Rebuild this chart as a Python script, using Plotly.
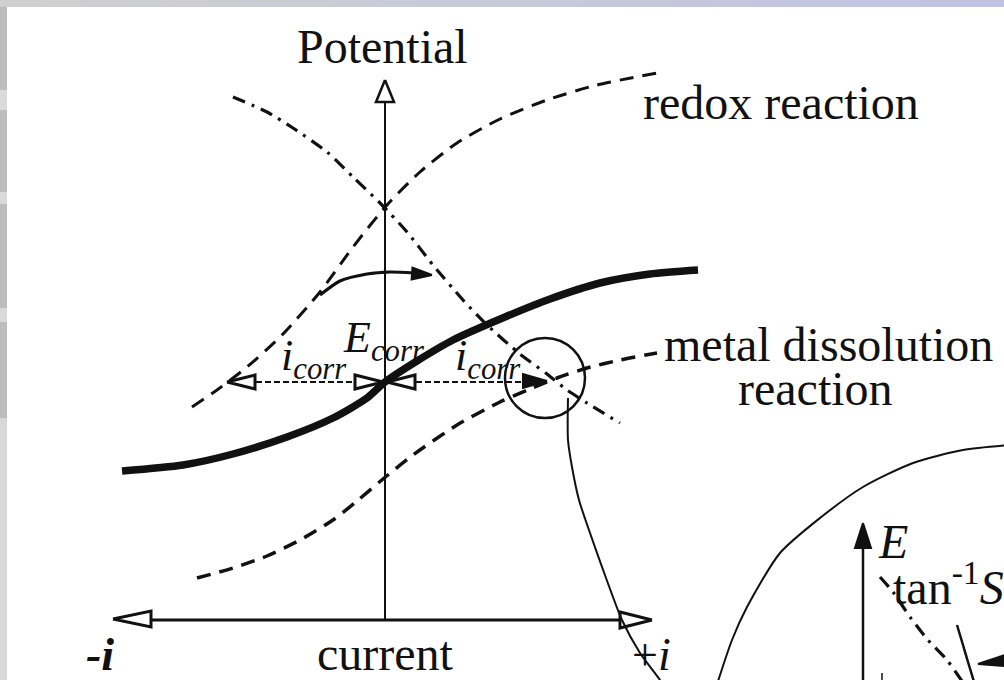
import plotly.graph_objects as go

W, H = 1004, 680
INK = "#111111"
SERIF = "Liberation Serif, Times New Roman, serif"

# ---- curve data (drawing units: x to the right, y downward) ----
# measured polarization curve (thick solid)
polar_x = [122, 183, 233, 287, 333, 367, 385, 417, 453, 505, 550, 600, 650, 698]
polar_y = [471, 465, 454, 437, 418, 398, 382, 361, 340, 317, 299, 283, 274, 270]

# redox reaction partial curve (dashed)
redox_x = [192, 217, 247, 282, 320, 353, 387, 420, 457, 500, 547, 597, 663]
redox_y = [407, 390, 367, 335, 292, 247, 205, 172, 143, 119, 100, 85, 72]

# metal dissolution partial curve (dashed)
metal_x = [197, 233, 267, 300, 333, 357, 383, 413, 457, 500, 530, 557, 587, 620, 657]
metal_y = [578, 568, 556, 540, 520, 501, 479, 455, 425, 402, 389, 378, 368, 360, 353]

# reversed redox branch (dash-dot)
rev_x = [233, 267, 293, 327, 353, 380, 407, 433, 463, 487, 520, 547, 567, 587, 620]
rev_y = [97, 112, 128, 152, 177, 203, 232, 265, 300, 325, 354, 374, 390, 403, 423]

# shift arrow of the potential
shift_x = [320, 340, 367, 390, 414, 432]
shift_y = [295, 281, 274, 272, 273, 275]

# axes of the main diagram
origin_x, origin_y = 385, 620
pot_axis_top = 80
cur_axis_left, cur_axis_right = 113, 652

# corrosion point and i_corr spans
e_corr = (385, 382)
icorr_left = (227, 383)
icorr_right = (387, 547)

# magnifier circle and connector
zoom_center = (545, 378)
zoom_radius = 40
conn_x = [568, 568, 572, 579, 590, 606, 622, 640, 660, 672]
conn_y = [398, 440, 467, 500, 533, 578, 620, 653, 680, 700]

# enlarged inset (bottom right)
inset_arc_x = [712, 732, 747, 780, 820, 863, 913, 963, 1010]
inset_arc_y = [700, 640, 607, 553, 518, 487, 463, 450, 445]
inset_axis_x, inset_axis_top = 863, 523
inset_dd_x = [880, 893, 910, 928, 947, 968]
inset_dd_y = [577, 592, 617, 640, 660, 690]
inset_solid_x = [957, 963, 968, 975]
inset_solid_y = [625, 645, 662, 685]
inset_tick_x = 882

fig = go.Figure()


def line(xs, ys, width, dash="solid", shape="spline", smoothing=0.7):
    fig.add_trace(go.Scatter(
        x=xs, y=ys, mode="lines", hoverinfo="skip",
        line=dict(color=INK, width=width, dash=dash, shape=shape, smoothing=smoothing),
    ))


def head(tip_x, tip_y, from_x, from_y, length, half, filled=False, width=2.5):
    dx, dy = tip_x - from_x, tip_y - from_y
    n = (dx * dx + dy * dy) ** 0.5
    ux, uy = dx / n, dy / n
    bx, by = tip_x - ux * length, tip_y - uy * length
    px, py = -uy, ux
    xs = [tip_x, bx + px * half, bx - px * half, tip_x]
    ys = [tip_y, by + py * half, by - py * half, tip_y]
    fig.add_trace(go.Scatter(
        x=xs, y=ys, mode="lines", fill="toself", hoverinfo="skip",
        fillcolor=INK if filled else "white",
        line=dict(color=INK, width=width),
    ))


# main axes
line([origin_x, origin_x], [origin_y, pot_axis_top + 10], 2, shape="linear")
line([cur_axis_left + 10, cur_axis_right - 10], [origin_y, origin_y], 2.8, shape="linear")
head(origin_x, pot_axis_top, origin_x, origin_y, 22, 9)
head(cur_axis_left, origin_y - 1, origin_x, origin_y - 1, 38, 8, width=3)
head(cur_axis_right, origin_y, origin_x, origin_y, 32, 8, width=3)

# partial reaction curves
line(redox_x, redox_y, 3, dash="14px,9px")
line(metal_x, metal_y, 3.5, dash="14px,9px")
line(rev_x, rev_y, 3.2, dash="13px,7px,3px,7px")

# measured curve
line(polar_x, polar_y, 7.5)

# shift arrow
line(shift_x[:-1], shift_y[:-1], 3.2)
head(shift_x[-1], shift_y[-1], shift_x[-3], shift_y[-3], 20, 6, filled=True, width=2)

# i_corr double arrows
y0 = e_corr[1]
line([icorr_left[0] + 20, icorr_left[1] - 20], [y0, y0], 2, dash="6px,3px", shape="linear")
line([icorr_right[0] + 20, icorr_right[1] - 20], [y0, y0], 2, dash="6px,3px", shape="linear")
head(icorr_left[0], y0, icorr_left[1], y0, 28, 7, width=3)
head(icorr_left[1], y0, icorr_left[0], y0, 28, 7, width=3)
head(icorr_right[0], y0, icorr_right[1], y0, 28, 7, width=3)
head(icorr_right[1], y0 - 1, icorr_right[0], y0 - 1, 24, 7, filled=True, width=2)

# magnifier circle and connector
fig.add_shape(type="circle", xref="x", yref="y",
              x0=zoom_center[0] - zoom_radius, x1=zoom_center[0] + zoom_radius,
              y0=zoom_center[1] - zoom_radius, y1=zoom_center[1] + zoom_radius,
              line=dict(color=INK, width=2.5))
line(conn_x, conn_y, 2)

# inset
line(inset_arc_x, inset_arc_y, 2)
line([inset_axis_x, inset_axis_x], [700, inset_axis_top + 10], 2.5, shape="linear")
head(inset_axis_x, inset_axis_top, inset_axis_x, 680, 25, 8, filled=True, width=2)
line([inset_tick_x, inset_tick_x], [673, 690], 1.5, shape="linear")
line(inset_dd_x, inset_dd_y, 3.2, dash="13px,7px,3px,7px")
line(inset_solid_x, inset_solid_y, 2.5)
head(978, 664, 1010, 660, 30, 6, filled=True, width=2)


# ---- labels ----
def label(text, x, y, size=48, xanchor="left", color=INK):
    fig.add_annotation(x=x, y=y, xref="x", yref="y", text=text, showarrow=False,
                       xanchor=xanchor, yanchor="middle",
                       font=dict(family=SERIF, size=size, color=color))


label("Potential", 382, 46, xanchor="center")
label("redox reaction", 641, 102)
label("metal dissolution", 662, 344)
label("reaction", 815, 388, xanchor="center")
label("current", 385, 653, xanchor="center")
label("<b><i>-i</i></b>", 84, 654, size=46)
label("+<i>i</i>", 630, 654, size=46)
label("<i>E</i><sub><i>corr</i></sub>", 341, 340, size=44)
label("<i>i</i><sub><i>corr</i></sub>", 279, 358, size=44)
label("<i>i</i><sub><i>corr</i></sub>", 453, 358, size=44)
label("<i>E</i>", 876, 541, size=48)
label("tan<sup>-1</sup><i>S</i>", 891, 584, size=48)

# ---- page frame (scanner edges) ----
n_seg = 24
for k in range(n_seg):
    t = k / (n_seg - 1)
    r = int(208 - 16 * t)
    g = int(208 - 12 * t)
    b = int(208 + 18 * t)
    fig.add_shape(type="rect", xref="paper", yref="paper", layer="below",
                  x0=k / n_seg, x1=(k + 1) / n_seg + 0.002, y0=1 - 7 / H, y1=1,
                  line=dict(width=0), fillcolor=f"rgb({r},{g},{b})")
left_blocks = [(7, 90, "#bdbdbd"), (90, 110, "#dadada"), (110, 192, "#bdbdbd"),
               (192, 204, "#dadada"), (204, 308, "#bdbdbd"), (308, 322, "#dadada"),
               (322, 418, "#bdbdbd"), (418, 680, "#d8d8d8")]
for top, bot, col in left_blocks:
    fig.add_shape(type="rect", xref="paper", yref="paper", layer="below",
                  x0=0, x1=7 / W, y0=1 - bot / H, y1=1 - top / H,
                  line=dict(width=0), fillcolor=col)

fig.update_layout(
    width=W, height=H, margin=dict(l=0, r=0, t=0, b=0),
    paper_bgcolor="white", plot_bgcolor="white", showlegend=False,
    xaxis=dict(range=[0, W], visible=False, fixedrange=True),
    yaxis=dict(range=[H, 0], visible=False, fixedrange=True),
)

fig.write_html("out.html")
